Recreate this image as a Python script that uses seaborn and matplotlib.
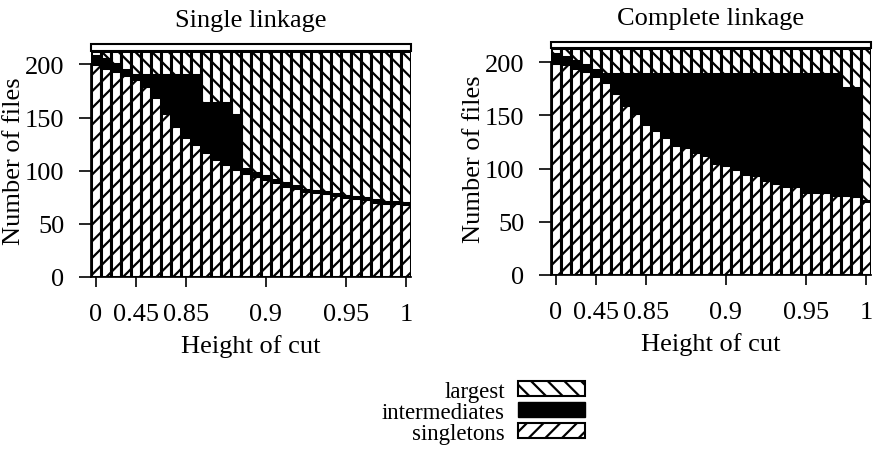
import matplotlib.pyplot as plt
import seaborn as sns
import pandas as pd
from matplotlib.patches import Patch

# bar index = one cut height, only some of them get a label
bars = list(range(32))
tick_pos = [0, 4, 9, 17, 25, 31]
tick_labels = ["0", "0.45", "0.85", "0.9", "0.95", "1"]
n_files = 213

single_singletons = [200, 197, 194, 190, 186, 180, 169, 154, 142, 132, 125, 118, 111, 106, 102, 98,
                     95, 92, 89, 86, 84, 81, 80, 79, 77, 75, 74, 73, 71, 70, 70, 69]
single_intermediates = [8, 8, 6, 5, 4, 10, 21, 36, 48, 58, 65, 46, 53, 58, 50, 4,
                        3, 3, 2, 2, 2, 1, 1, 1, 1, 1, 1, 1, 1, 1, 1, 1]

complete_singletons = [199, 198, 195, 192, 187, 181, 171, 160, 152, 142, 136, 130, 122, 120, 116, 113,
                       105, 103, 100, 95, 94, 89, 86, 84, 84, 78, 78, 78, 75, 75, 74, 70]
complete_intermediates = [9, 7, 6, 5, 6, 8, 18, 29, 37, 47, 53, 59, 67, 69, 73, 76,
                          84, 86, 89, 94, 95, 100, 103, 105, 105, 111, 111, 111, 114, 101, 102, 0]

sns.set_theme(style="ticks", rc={"axes.edgecolor": "black", "xtick.color": "black",
                                 "ytick.color": "black", "text.color": "black",
                                 "axes.labelcolor": "black"})
plt.rcParams["font.family"] = ["Liberation Serif", "DejaVu Serif"]
plt.rcParams["hatch.linewidth"] = 1.6
plt.rcParams["hatch.color"] = "black"

FS = 19
bar_kw = dict(x="cut", width=1, saturation=1, edgecolor="black", linewidth=2.2, errorbar=None)


def draw_panel(ax, singletons, intermediates, title):
    df = pd.DataFrame({"cut": bars, "singletons": singletons, "intermediates": intermediates})
    df["mid"] = df["singletons"] + df["intermediates"]
    df["total"] = n_files
    # stacked by overdrawing: total (largest) -> singletons+intermediates -> singletons
    sns.barplot(data=df, y="total", color="white", hatch="\\\\", ax=ax, **bar_kw)
    sns.barplot(data=df, y="mid", color="black", ax=ax, **bar_kw)
    sns.barplot(data=df, y="singletons", color="white", hatch="//", ax=ax, **bar_kw)

    ax.set_xlim(-0.5, 31.5)
    ax.set_ylim(0, 219)
    ax.axhspan(n_files, 219, facecolor="white", edgecolor="black", linewidth=1.5, clip_on=False)
    ax.spines["top"].set_visible(False)
    ax.spines["right"].set_visible(False)
    ax.spines["left"].set_bounds(0, 200)
    ax.set_yticks([0, 50, 100, 150, 200])
    ax.set_xticks(tick_pos, tick_labels)
    ax.tick_params(axis="y", length=9, width=1.2, pad=10, labelsize=FS)
    ax.tick_params(axis="x", length=7, width=1.2, pad=12, labelsize=FS)
    ax.set_xlabel("Height of cut", fontsize=FS, labelpad=6)
    ax.set_ylabel("Number of files", fontsize=FS, labelpad=0)
    ax.set_title(title, fontsize=FS, pad=13)


fig = plt.figure(figsize=(8.74, 4.52), dpi=100)
ax1 = fig.add_axes([0.1041, 0.385, 0.3661, 0.515])
ax2 = fig.add_axes([0.6304, 0.3894, 0.3661, 0.5155])

draw_panel(ax1, single_singletons, single_intermediates, "Single linkage")
draw_panel(ax2, complete_singletons, complete_intermediates, "Complete linkage")

handles = [Patch(facecolor="white", edgecolor="black", hatch="\\\\", lw=1.5),
           Patch(facecolor="black", edgecolor="black"),
           Patch(facecolor="white", edgecolor="black", hatch="//", lw=1.5)]
fig.legend(handles, ["largest", "intermediates", "singletons"], loc="center",
           bbox_to_anchor=(0.553, 0.086), frameon=False, markerfirst=False, fontsize=16.5,
           handlelength=2.9, handleheight=0.65, labelspacing=0.0, handletextpad=0.6)

fig.savefig("out.png", dpi=100)
